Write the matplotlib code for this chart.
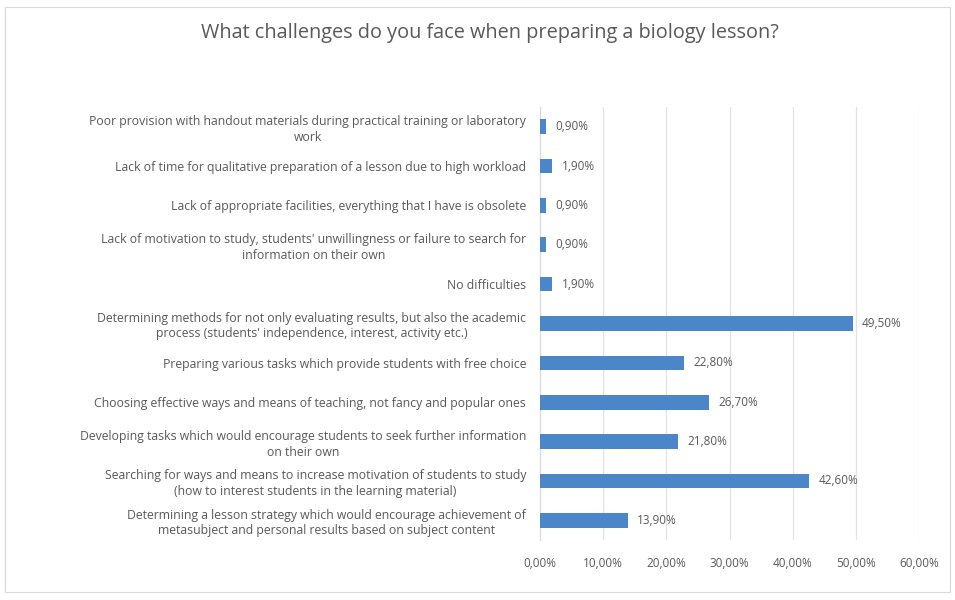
import matplotlib
matplotlib.use("Agg")
import matplotlib.pyplot as plt
from matplotlib.patches import Rectangle

categories = [
    "Poor provision with handout materials during practical training or laboratory\nwork",
    "Lack of time for qualitative preparation of a lesson due to high workload",
    "Lack of appropriate facilities, everything that I have is obsolete",
    "Lack of motivation to study, students' unwillingness or failure to search for\ninformation on their own",
    "No difficulties",
    "Determining methods for not only evaluating results, but also the academic\nprocess (students' independence, interest, activity etc.)",
    "Preparing various tasks which provide students with free choice",
    "Choosing effective ways and means of teaching, not fancy and popular ones",
    "Developing tasks which would encourage students to seek further information\non their own",
    "Searching for ways and means to increase motivation of students to study\n(how to interest students in the learning material)",
    "Determining a lesson strategy which would encourage achievement of\nmetasubject and personal results based on subject content",
]
values = [0.90, 1.90, 0.90, 0.90, 1.90, 49.50, 22.80, 26.70, 21.80, 42.60, 13.90]
xticks = [0, 10, 20, 30, 40, 50, 60]
title = "What challenges do you face when preparing a biology lesson?"

def pct(v):
    return f"{v:.2f}".replace(".", ",") + "%"

plt.rcParams['font.family'] = ['Open Sans', 'DejaVu Sans']
text_color = '#595959'
bar_color = '#4a86c8'

fig = plt.figure(figsize=(9.55, 6.0), dpi=100)
ax = fig.add_axes([540/955, 1-540/600, (919-540)/955, (540-107)/600])

n = len(categories)
ypos = list(range(n))
ax.barh(ypos, values, height=0.37, color=bar_color, zorder=3)
ax.set_ylim(n - 0.5, -0.5)
ax.set_xlim(0, 60)
ax.set_xticks(xticks)
ax.set_xticklabels([pct(t) for t in xticks], fontsize=8.5, color=text_color)
ax.set_yticks(ypos)
ax.set_yticklabels(categories, fontsize=8.8, color=text_color, multialignment='center',
                   linespacing=1.25)
ax.tick_params(axis='both', length=0)
ax.tick_params(axis='x', pad=12)
ax.tick_params(axis='y', pad=10)
ax.grid(axis='x', color='#e3e3e3', linewidth=0.9, zorder=0)
for s in ['top', 'right', 'bottom']:
    ax.spines[s].set_visible(False)
ax.spines['left'].set_color('#d9d9d9')

for y, v in zip(ypos, values):
    ax.text(v + 1.5, y, pct(v), va='center', ha='left', fontsize=8.5, color=text_color)

fig.text(490/955, 1-33/600, title, ha='center', va='center', fontsize=14.3, color=text_color)

fig.patches.append(Rectangle((5/955, 8/600), 945/955, 585/600, transform=fig.transFigure,
                             fill=False, edgecolor='#d9d9d9', linewidth=0.8))

fig.savefig("out.png", dpi=100, facecolor='white')
